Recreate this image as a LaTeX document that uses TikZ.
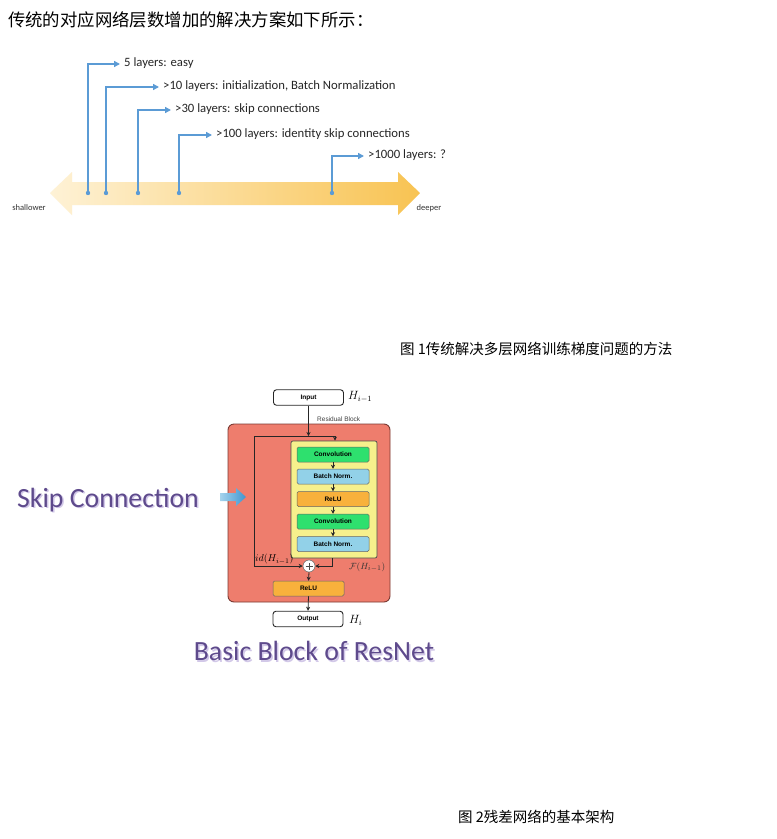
\documentclass[tikz,border=0pt]{standalone}
\usepackage{fontspec}
\setmainfont{Carlito}
\newfontfamily\cjk{Noto Sans CJK SC}
\newfontfamily\arialf{Liberation Sans}
\usetikzlibrary{arrows.meta}
\definecolor{tlblue}{HTML}{5B9BD5}
\definecolor{palecol}{HTML}{FEF2D6}
\definecolor{deepcol}{HTML}{F8C352}
\definecolor{redbox}{HTML}{EE7D6D}
\definecolor{redline}{HTML}{7A3A33}
\definecolor{yelbox}{HTML}{F6F08C}
\definecolor{convg}{HTML}{2EE06E}
\definecolor{bnblue}{HTML}{92D1E8}
\definecolor{reluo}{HTML}{F8B13C}
\definecolor{purp}{HTML}{5E4A8C}
\definecolor{purpshadow}{HTML}{D2C8E8}
\definecolor{arrL}{HTML}{A5D3EC}
\definecolor{arrR}{HTML}{3E95D0}
\tikzset{
  tltext/.style={anchor=west, inner xsep=4pt, inner ysep=0pt, text=black!85, font=\fontsize{12.7}{14}\selectfont, text height=0.7em, text depth=0.2em},
  tlline/.style={draw=tlblue, line width=1.4pt, -{Triangle[length=6pt,width=6pt]}},
  captext/.style={anchor=west, inner sep=0pt, font=\cjk\fontsize{14.5}{15}\selectfont},
  iobox/.style={draw=black!85, line width=0.9pt, fill=white, rounded corners=3pt, minimum width=70pt, minimum height=15.5pt, inner sep=0pt, font=\arialf\bfseries\fontsize{6.5}{7}\selectfont},
  layerbox/.style={draw=black!60, line width=0.5pt, rounded corners=1.5pt, minimum width=72pt, minimum height=15pt, inner sep=0pt, font=\arialf\bfseries\fontsize{6.5}{7}\selectfont},
  flow/.style={draw=black!85, line width=0.8pt, -{Stealth[length=4pt,width=4pt]}},
  plainline/.style={draw=black!85, line width=0.8pt},
  mathlab/.style={inner sep=0pt, font=\fontsize{11}{12}\selectfont},
  bigtext/.style={inner sep=0pt, text=purp, font=\fontsize{27.8}{30}\selectfont},
}
\begin{document}
\begin{tikzpicture}[x=1pt,y=-1pt]
\useasboundingbox (0,0) rectangle (777,839);
\fill[white] (0,0) rectangle (777,839);

% title
\node[anchor=west, inner sep=0pt, font=\cjk\fontsize{17.4}{18}\selectfont] (title) at (8,20) {传统的对应网络层数增加的解决方案如下所示：};

% timeline arrow
\shade[left color=palecol, right color=deepcol]
  (50,193) -- (72,172) -- (72,182) -- (398,182) -- (398,172) -- (420,193)
  -- (398,215) -- (398,205) -- (72,205) -- (72,215) -- cycle;
\node[inner sep=0pt, font=\fontsize{8.5}{9}\selectfont, text=black!80] (shal) at (29,208) {shallower};
\node[inner sep=0pt, font=\fontsize{8.5}{9}\selectfont, text=black!80] (deeper) at (429,208) {deeper};

\coordinate (d1) at (88,193);
\coordinate (d2) at (106,193);
\coordinate (d3) at (138,193);
\coordinate (d4) at (179,193);
\coordinate (d5) at (332,193);
\node[tltext] (t1) at (120,64) {5 layers: easy};
\node[tltext] (t2) at (159,87) {>10 layers: initialization, Batch Normalization};
\node[tltext] (t3) at (171,110) {>30 layers: skip connections};
\node[tltext] (t4) at (212,135) {>100 layers: identity skip connections};
\node[tltext] (t5) at (364,156) {>1000 layers: ?};
\foreach \i in {1,...,5}{
  \draw[tlline] (d\i) |- (t\i.west);
  \fill[tlblue] (d\i) circle (2.2);
}

% caption 1
\node[captext] (cap1) at (400,349) {图 1传统解决多层网络训练梯度问题的方法};

% ResNet block
\node[draw=redline, line width=0.9pt, fill=redbox, rounded corners=6pt, minimum width=162pt, minimum height=178pt, inner sep=0pt] (outer) at (309,513) {};
\node[draw=black!70, line width=0.7pt, fill=yelbox, rounded corners=2pt, minimum width=86pt, minimum height=117pt, inner sep=0pt] (yel) at (334,499.5) {};
\node[iobox] (in) at (308.5,397.5) {Input};
\node[layerbox, fill=convg] (c1) at (333,454.5) {Convolution};
\node[layerbox, fill=bnblue] (b1) at (333,476.5) {Batch Norm.};
\node[layerbox, fill=reluo] (r1) at (333,499) {ReLU};
\node[layerbox, fill=convg] (c2) at (333,521.5) {Convolution};
\node[layerbox, fill=bnblue] (b2) at (333,544) {Batch Norm.};
\node[circle, draw=black!60, line width=0.5pt, fill=white, minimum size=12pt, inner sep=0pt] (plus) at (309,566) {};
\draw[black!70, line width=0.6pt] ([xshift=-3.5pt]plus.center) -- ([xshift=3.5pt]plus.center)
  ([yshift=-3.5pt]plus.center) -- ([yshift=3.5pt]plus.center);
\node[layerbox, fill=reluo, minimum width=71pt] (r2) at (308.5,588.5) {ReLU};
\node[iobox] (out) at (308,619) {Output};

\node[mathlab, anchor=west, font=\fontsize{12}{13}\selectfont] (hin) at (348,397) {$H_{i-1}$};
\node[mathlab, anchor=west, font=\fontsize{12}{13}\selectfont] (hout) at (349,620) {$H_i$};
\node[inner sep=0pt, anchor=west, font=\arialf\fontsize{6.5}{7}\selectfont, text=black!75] (rb) at (317,419) {Residual Block};
\node[mathlab, anchor=west, font=\fontsize{10}{11}\selectfont] (idl) at (255,559) {$id(H_{i-1})$};
\node[mathlab, anchor=west, font=\fontsize{9.5}{10}\selectfont, text=black!80] (fl) at (349,567) {$\mathcal{F}(H_{i-1})$};

\coordinate (sL) at (254,436);
\coordinate (sM) at (308.5,436);
\coordinate (sR) at (335,436);
\coordinate (yb) at (332,558);
\draw[flow] (in.south) -- (sM);
\draw[plainline] (sL) -- (sR);
\draw[flow] (sR) -- (sR |- yel.north);
\draw[flow] (sL) |- (plus.west);
\draw[flow] (yb) |- (plus.east);
\draw[flow] (c1.south) -- (b1.north);
\draw[flow] (b1.south) -- (r1.north);
\draw[flow] (r1.south) -- (c2.north);
\draw[flow] (c2.south) -- (b2.north);
\draw[flow] (plus.south) -- (r2.north);
\draw[flow] (r2.south) -- (out.north);

% Skip connection label and arrow
\node[bigtext, text=purpshadow] (skipsh) at (109.5,501.5) {Skip Connection};
\node[bigtext] (skip) at (108,500) {Skip Connection};
\shade[left color=arrL, right color=arrR]
  (220,493) -- (236,493) -- (236,488) -- (246,497) -- (236,506) -- (236,501) -- (220,501) -- cycle;

\node[bigtext, text=purpshadow] (bbsh) at (315.5,652.5) {Basic Block of ResNet};
\node[bigtext] (bb) at (314,651) {Basic Block of ResNet};

% caption 2
\node[captext] (cap2) at (458,817) {图 2残差网络的基本架构};
\end{tikzpicture}
\end{document}
